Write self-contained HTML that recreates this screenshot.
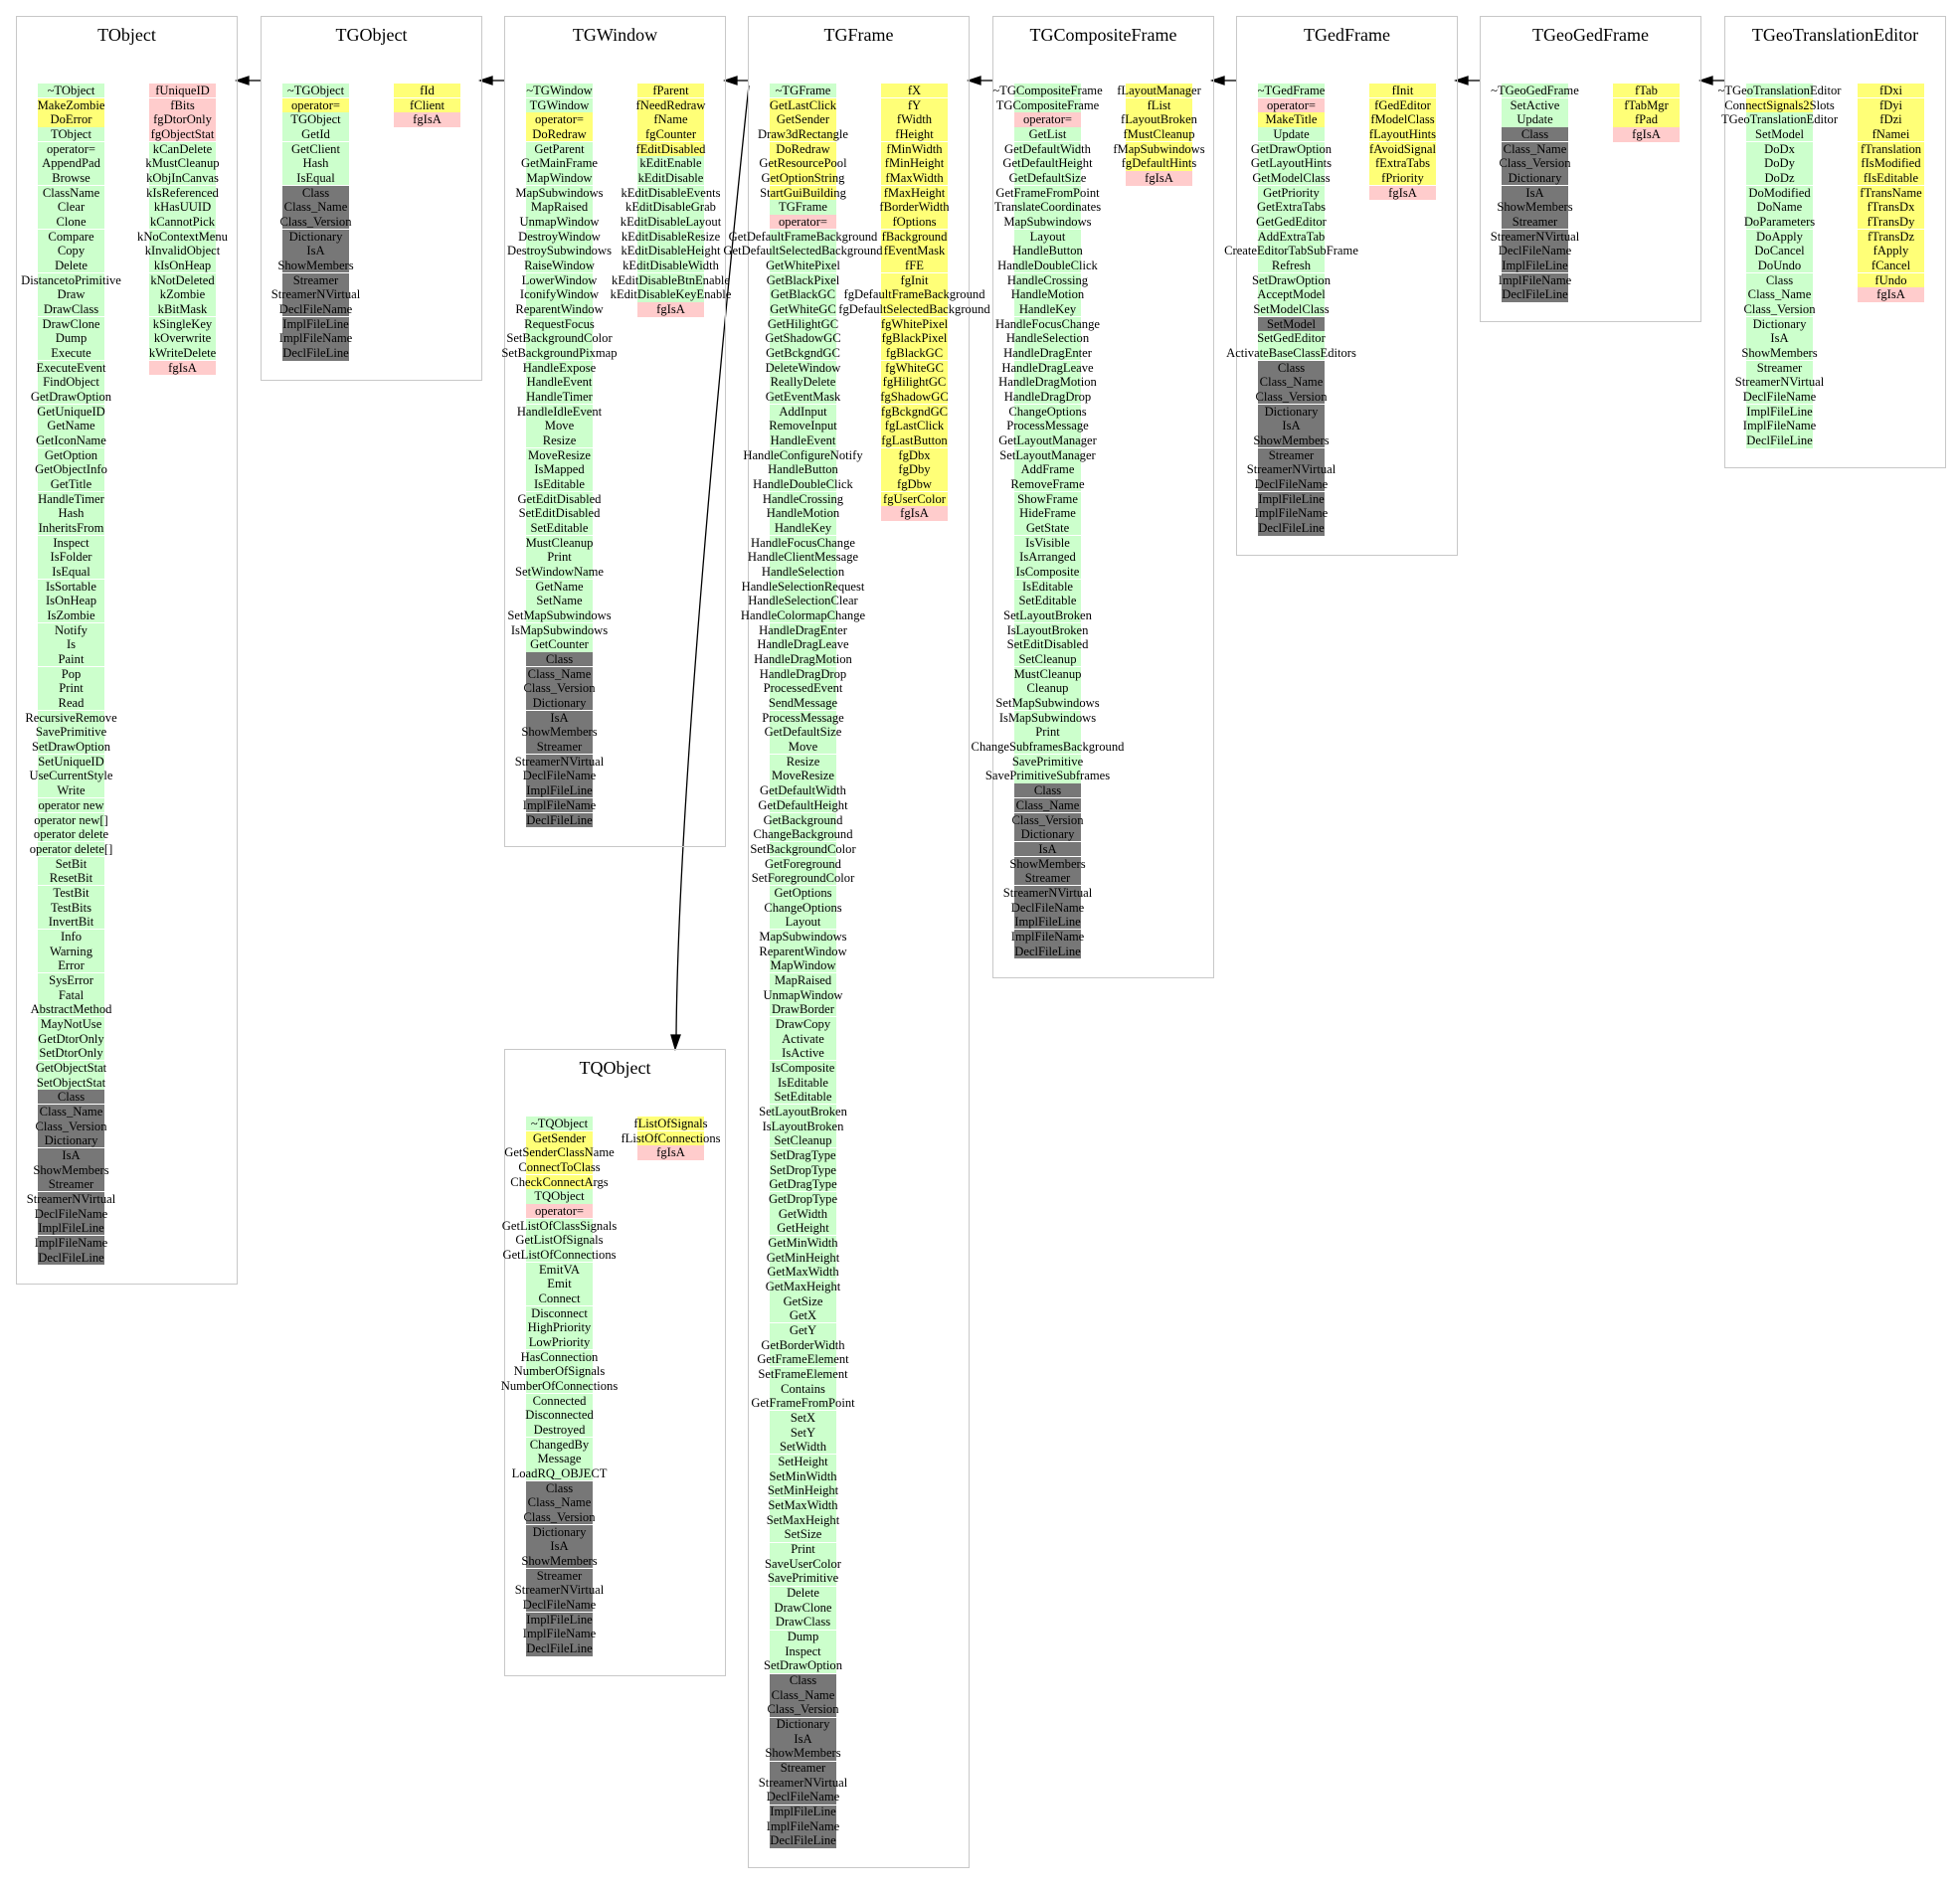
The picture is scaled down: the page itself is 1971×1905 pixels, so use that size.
<!DOCTYPE html>
<html><head><meta charset="utf-8">
<style>
html,body{margin:0;padding:0;background:#fff;}
body{width:1971px;height:1905px;position:relative;overflow:hidden;font-family:"Liberation Serif",serif;}
.box{position:absolute;border:1px solid #c8c8c8;box-sizing:border-box;}
.t{position:absolute;left:0;right:0;top:8px;text-align:center;font-size:18px;line-height:20px;}
.c{position:absolute;height:14.67px;}
.x{position:absolute;width:0;height:14.67px;font-size:12.6px;line-height:14.67px;white-space:nowrap;}
.x span{position:absolute;transform:translateX(-50%);}
.s{position:absolute;height:1px;background:#fff;}
</style></head><body>
<svg width="1971" height="1905" style="position:absolute;left:0;top:0" xmlns="http://www.w3.org/2000/svg">
<g stroke="#000" stroke-width="1.3" fill="#000">
<line x1="262" y1="81" x2="248" y2="81"/><polygon points="238,81 250,77 250,85"/>
<line x1="507" y1="81" x2="494" y2="81"/><polygon points="483,81 495,77 495,85"/>
<line x1="752" y1="81" x2="740" y2="81"/><polygon points="729,81 741,77 741,85"/>
<line x1="998" y1="81" x2="985" y2="81"/><polygon points="974,81 986,77 986,85"/>
<line x1="1243" y1="81" x2="1230" y2="81"/><polygon points="1219,81 1231,77 1231,85"/>
<line x1="1488" y1="81" x2="1476" y2="81"/><polygon points="1464,81 1476,77 1476,85"/>
<line x1="1734" y1="81" x2="1721" y2="81"/><polygon points="1710,81 1722,77 1722,85"/>
<path d="M753,86 C725,350 682,800 680,1042" fill="none"/>
<polygon points="679,1055 675,1041 684,1041"/>
</g></svg>
<div id="root"></div>
<script>
var CLS='Class,Class_Name,Class_Version,Dictionary,IsA,ShowMembers,Streamer,StreamerNVirtual,DeclFileName,ImplFileLine,ImplFileName,DeclFileLine';
var COL={g:'#ccffcc',y:'#ffff77',p:'#ffcccc',d:'#777777'};
var boxes=[
{n:'TObject',x:16,y:16,L:[['g','~TObject'],['y','MakeZombie,DoError'],['g','TObject,operator=,AppendPad,Browse,ClassName,Clear,Clone,Compare,Copy,Delete,DistancetoPrimitive,Draw,DrawClass,DrawClone,Dump,Execute,ExecuteEvent,FindObject,GetDrawOption,GetUniqueID,GetName,GetIconName,GetOption,GetObjectInfo,GetTitle,HandleTimer,Hash,InheritsFrom,Inspect,IsFolder,IsEqual,IsSortable,IsOnHeap,IsZombie,Notify,Is,Paint,Pop,Print,Read,RecursiveRemove,SavePrimitive,SetDrawOption,SetUniqueID,UseCurrentStyle,Write,operator new,operator new[],operator delete,operator delete[],SetBit,ResetBit,TestBit,TestBits,InvertBit,Info,Warning,Error,SysError,Fatal,AbstractMethod,MayNotUse,GetDtorOnly,SetDtorOnly,GetObjectStat,SetObjectStat'],['d',CLS]],
R:[['p','fUniqueID,fBits,fgDtorOnly,fgObjectStat'],['g','kCanDelete,kMustCleanup,kObjInCanvas,kIsReferenced,kHasUUID,kCannotPick,kNoContextMenu,kInvalidObject,kIsOnHeap,kNotDeleted,kZombie,kBitMask,kSingleKey,kOverwrite,kWriteDelete'],['p','fgIsA']]},
{n:'TGObject',x:262,y:16,L:[['g','~TGObject'],['y','operator='],['g','TGObject,GetId,GetClient,Hash,IsEqual'],['d',CLS]],R:[['y','fId,fClient'],['p','fgIsA']]},
{n:'TGWindow',x:507,y:16,L:[['g','~TGWindow,TGWindow'],['y','operator=,DoRedraw'],['g','GetParent,GetMainFrame,MapWindow,MapSubwindows,MapRaised,UnmapWindow,DestroyWindow,DestroySubwindows,RaiseWindow,LowerWindow,IconifyWindow,ReparentWindow,RequestFocus,SetBackgroundColor,SetBackgroundPixmap,HandleExpose,HandleEvent,HandleTimer,HandleIdleEvent,Move,Resize,MoveResize,IsMapped,IsEditable,GetEditDisabled,SetEditDisabled,SetEditable,MustCleanup,Print,SetWindowName,GetName,SetName,SetMapSubwindows,IsMapSubwindows,GetCounter'],['d',CLS]],
R:[['y','fParent,fNeedRedraw,fName,fgCounter,fEditDisabled'],['g','kEditEnable,kEditDisable,kEditDisableEvents,kEditDisableGrab,kEditDisableLayout,kEditDisableResize,kEditDisableHeight,kEditDisableWidth,kEditDisableBtnEnable,kEditDisableKeyEnable'],['p','fgIsA']]},
{n:'TGFrame',x:752,y:16,L:[['g','~TGFrame'],['y','GetLastClick,GetSender,Draw3dRectangle,DoRedraw,GetResourcePool,GetOptionString,StartGuiBuilding'],['g','TGFrame'],['p','operator='],['g','GetDefaultFrameBackground,GetDefaultSelectedBackground,GetWhitePixel,GetBlackPixel,GetBlackGC,GetWhiteGC,GetHilightGC,GetShadowGC,GetBckgndGC,DeleteWindow,ReallyDelete,GetEventMask,AddInput,RemoveInput,HandleEvent,HandleConfigureNotify,HandleButton,HandleDoubleClick,HandleCrossing,HandleMotion,HandleKey,HandleFocusChange,HandleClientMessage,HandleSelection,HandleSelectionRequest,HandleSelectionClear,HandleColormapChange,HandleDragEnter,HandleDragLeave,HandleDragMotion,HandleDragDrop,ProcessedEvent,SendMessage,ProcessMessage,GetDefaultSize,Move,Resize,MoveResize,GetDefaultWidth,GetDefaultHeight,GetBackground,ChangeBackground,SetBackgroundColor,GetForeground,SetForegroundColor,GetOptions,ChangeOptions,Layout,MapSubwindows,ReparentWindow,MapWindow,MapRaised,UnmapWindow,DrawBorder,DrawCopy,Activate,IsActive,IsComposite,IsEditable,SetEditable,SetLayoutBroken,IsLayoutBroken,SetCleanup,SetDragType,SetDropType,GetDragType,GetDropType,GetWidth,GetHeight,GetMinWidth,GetMinHeight,GetMaxWidth,GetMaxHeight,GetSize,GetX,GetY,GetBorderWidth,GetFrameElement,SetFrameElement,Contains,GetFrameFromPoint,SetX,SetY,SetWidth,SetHeight,SetMinWidth,SetMinHeight,SetMaxWidth,SetMaxHeight,SetSize,Print,SaveUserColor,SavePrimitive,Delete,DrawClone,DrawClass,Dump,Inspect,SetDrawOption'],['d',CLS]],
R:[['y','fX,fY,fWidth,fHeight,fMinWidth,fMinHeight,fMaxWidth,fMaxHeight,fBorderWidth,fOptions,fBackground,fEventMask,fFE,fgInit,fgDefaultFrameBackground,fgDefaultSelectedBackground,fgWhitePixel,fgBlackPixel,fgBlackGC,fgWhiteGC,fgHilightGC,fgShadowGC,fgBckgndGC,fgLastClick,fgLastButton,fgDbx,fgDby,fgDbw,fgUserColor'],['p','fgIsA']]},
{n:'TGCompositeFrame',x:998,y:16,L:[['g','~TGCompositeFrame,TGCompositeFrame'],['p','operator='],['g','GetList,GetDefaultWidth,GetDefaultHeight,GetDefaultSize,GetFrameFromPoint,TranslateCoordinates,MapSubwindows,Layout,HandleButton,HandleDoubleClick,HandleCrossing,HandleMotion,HandleKey,HandleFocusChange,HandleSelection,HandleDragEnter,HandleDragLeave,HandleDragMotion,HandleDragDrop,ChangeOptions,ProcessMessage,GetLayoutManager,SetLayoutManager,AddFrame,RemoveFrame,ShowFrame,HideFrame,GetState,IsVisible,IsArranged,IsComposite,IsEditable,SetEditable,SetLayoutBroken,IsLayoutBroken,SetEditDisabled,SetCleanup,MustCleanup,Cleanup,SetMapSubwindows,IsMapSubwindows,Print,ChangeSubframesBackground,SavePrimitive,SavePrimitiveSubframes'],['d',CLS]],
R:[['y','fLayoutManager,fList,fLayoutBroken,fMustCleanup,fMapSubwindows,fgDefaultHints'],['p','fgIsA']]},
{n:'TGedFrame',x:1243,y:16,L:[['g','~TGedFrame'],['p','operator='],['y','MakeTitle'],['g','Update,GetDrawOption,GetLayoutHints,GetModelClass,GetPriority,GetExtraTabs,GetGedEditor,AddExtraTab,CreateEditorTabSubFrame,Refresh,SetDrawOption,AcceptModel,SetModelClass'],['d','SetModel'],['g','SetGedEditor,ActivateBaseClassEditors'],['d',CLS]],
R:[['y','fInit,fGedEditor,fModelClass,fLayoutHints,fAvoidSignal,fExtraTabs,fPriority'],['p','fgIsA']]},
{n:'TGeoGedFrame',x:1488,y:16,L:[['g','~TGeoGedFrame,SetActive,Update'],['d',CLS]],R:[['y','fTab,fTabMgr,fPad'],['p','fgIsA']]},
{n:'TGeoTranslationEditor',x:1734,y:16,L:[['g','~TGeoTranslationEditor'],['y','ConnectSignals2Slots'],['g','TGeoTranslationEditor,SetModel,DoDx,DoDy,DoDz,DoModified,DoName,DoParameters,DoApply,DoCancel,DoUndo,'+CLS]],
R:[['y','fDxi,fDyi,fDzi,fNamei,fTranslation,fIsModified,fIsEditable,fTransName,fTransDx,fTransDy,fTransDz,fApply,fCancel,fUndo'],['p','fgIsA']]},
{n:'TQObject',x:507,y:1055,L:[['g','~TQObject'],['y','GetSender,GetSenderClassName,ConnectToClass,CheckConnectArgs'],['g','TQObject'],['p','operator='],['g','GetListOfClassSignals,GetListOfSignals,GetListOfConnections,EmitVA,Emit,Connect,Disconnect,HighPriority,LowPriority,HasConnection,NumberOfSignals,NumberOfConnections,Connected,Disconnected,Destroyed,ChangedBy,Message,LoadRQ_OBJECT'],['d',CLS]],
R:[['y','fListOfSignals,fListOfConnections'],['p','fgIsA']]}
];
var H=14.67,html='';
function col(b,segs,off){
  var rows=[];segs.forEach(function(s){s[1].split(',').forEach(function(t){rows.push([s[0],t]);});});
  var bg='',tx='';
  rows.forEach(function(r,i){
    var top=b.y+68+i*H;
    bg+='<div class="c" style="left:'+(b.x+off)+'px;width:67px;top:'+top+'px;background:'+COL[r[0]]+'"></div>';
    if(i%3==1)bg+='<div class="s" style="left:'+(b.x+off)+'px;width:67px;top:'+(top-0.5)+'px"></div>';
    tx+='<div class="x" style="left:'+(b.x+off+33.5)+'px;top:'+top+'px"><span>'+r[1].replace(/&/g,'&amp;')+'</span></div>';
  });
  return {n:rows.length,bg:bg,tx:tx};
}
var bgs='',txs='';
boxes.forEach(function(b){
  var l=col(b,b.L,22),r=col(b,b.R,134);
  var n=Math.max(l.n,r.n);
  var h=68+n*H+20;
  html+='<div class="box" style="left:'+b.x+'px;top:'+b.y+'px;width:223px;height:'+h+'px"><div class="t">'+b.n+'</div></div>';
  bgs+=l.bg+r.bg;txs+=l.tx+r.tx;
});
document.getElementById('root').innerHTML=html+bgs+txs;
</script>
</body></html>
